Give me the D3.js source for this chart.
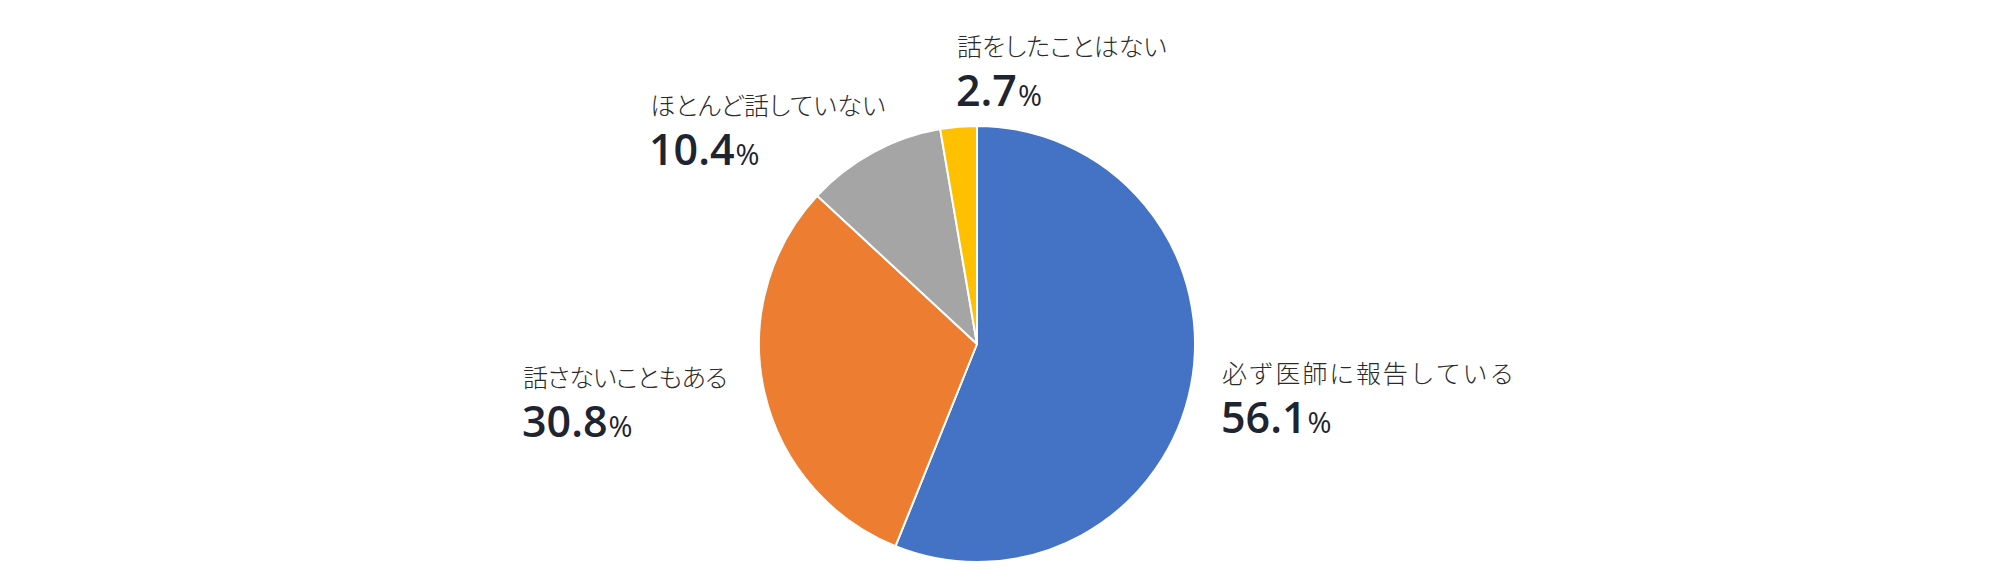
<!DOCTYPE html>
<html><head><meta charset="utf-8">
<script src="https://cdn.jsdelivr.net/npm/d3@7"></script>
<style>
html,body{margin:0;padding:0;background:#fff;}
svg{display:block;}
</style></head>
<body>
<svg id="chart" width="2016" height="580"></svg>
<script>
const categories = ["必ず医師に報告している", "話さないこともある", "ほとんど話していない", "話をしたことはない"];
const values = [56.1, 30.8, 10.4, 2.7];
const colors = ["#4472C4", "#ED7D31", "#A5A5A5", "#FFC000"];
// label anchor positions (left x, percentage baseline y)
const labelPos = [[1222, 433], [523, 437], [650, 165], [957, 106]];
// per-label glyph spacing tweaks
const labelFeat = ["normal", "'palt'", "'palt'", "'palt'"];
const labelSpacing = [1.8, -0.6, 0.3, 0];

const svg = d3.select("#chart");
const cx = 977, cy = 344, R = 218;
const pie = d3.pie().sort(null).value(d => d);
const arc = d3.arc().innerRadius(0).outerRadius(R);
const g = svg.append("g").attr("transform", `translate(${cx},${cy})`);
g.selectAll("path").data(pie(values)).join("path")
  .attr("d", arc)
  .attr("fill", (d, i) => colors[i])
  .attr("stroke", "#fff")
  .attr("stroke-width", 2)
  .attr("stroke-linejoin", "round");

const lab = svg.append("g");
categories.forEach((c, i) => {
  const [x, y] = labelPos[i];
  lab.append("text")
    .attr("x", x).attr("y", y - 50)
    .attr("font-family", "'Noto Sans CJK JP', sans-serif")
    .attr("font-weight", 300)
    .attr("font-size", 25)
    .attr("fill", "#2b2b2b")
    .attr("letter-spacing", labelSpacing[i])
    .style("font-feature-settings", labelFeat[i])
    .text(c);
  const t = lab.append("text")
    .attr("x", x - 1).attr("y", y)
    .attr("font-family", "'Open Sans', sans-serif")
    .attr("fill", "#1e2430");
  t.append("tspan").attr("font-size", 43).attr("font-weight", 600).text(d3.format(".1f")(values[i]));
  t.append("tspan").attr("font-size", 29).attr("font-weight", 400).attr("dx", 1).text("%");
});
</script>
</body></html>
